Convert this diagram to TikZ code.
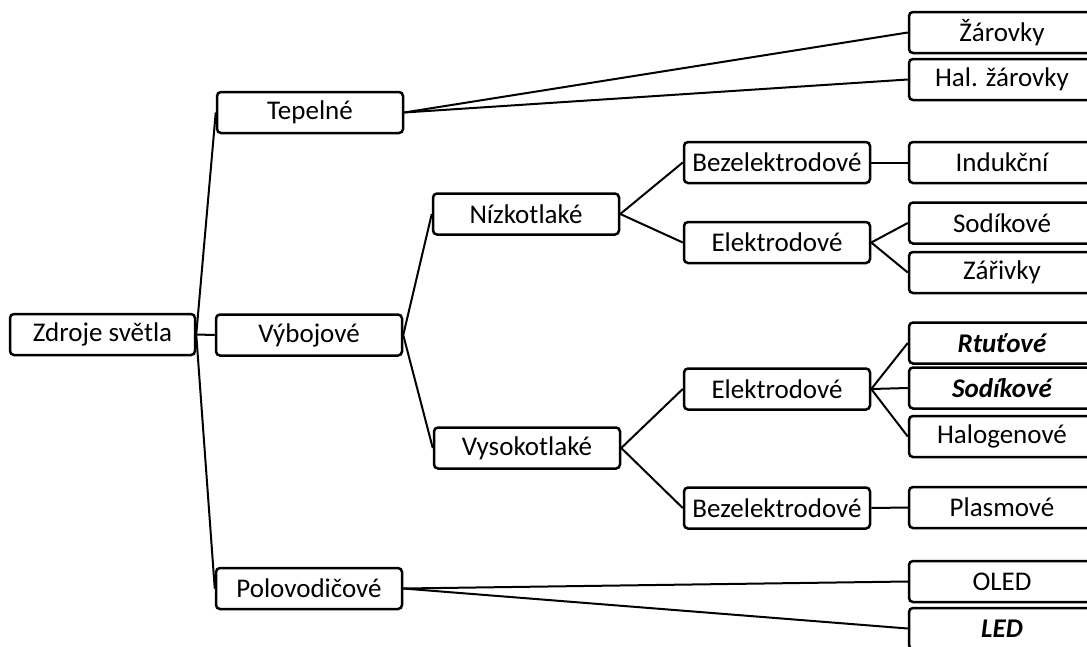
\documentclass[tikz,border=0pt]{standalone}
\usepackage{fontspec}
\setmainfont{Carlito}
\begin{document}
\begin{tikzpicture}[x=1pt,y=-1pt,
  box/.style={draw=black, line width=2.5pt, rounded corners=4pt, fill=white,
    minimum width=186pt, minimum height=41pt, inner sep=0pt,
    font=\fontsize{27}{31}\selectfont},
  bi/.style={font=\fontsize{27}{31}\selectfont\bfseries\itshape},
  con/.style={line width=2pt, black}]
\useasboundingbox (0,0) rectangle (1087,646);
% level 0
\node[box, minimum width=185pt] (z) at (102.5,334.5) {Zdroje světla};
% level 1
\node[box] (t) at (310,112.5) {Tepelné};
\node[box] (v) at (309,335) {Výbojové};
\node[box] (p) at (309,588.5) {Polovodičové};
% level 2
\node[box] (n) at (526,214) {Nízkotlaké};
\node[box] (vy) at (527,448) {Vysokotlaké};
% level 3
\node[box] (b1) at (777,162.5) {Bezelektrodové};
\node[box] (e1) at (777,242.5) {Elektrodové};
\node[box] (e2) at (777,389) {Elektrodové};
\node[box] (b2) at (777,508) {Bezelektrodové};
% level 4
\node[box] (zar) at (1002,32.5) {Žárovky};
\node[box] (hal) at (1002,79.5) {Hal. žárovky};
\node[box] (ind) at (1002,162.5) {Indukční};
\node[box] (sod) at (1002,223) {Sodíkové};
\node[box] (zari) at (1002,272.5) {Zářivky};
\node[box, bi] (rtu) at (1002,343) {Rtuťové};
\node[box, bi] (sod2) at (1002,388) {Sodíkové};
\node[box] (halo) at (1002,436.5) {Halogenové};
\node[box] (plas) at (1002,507.5) {Plasmové};
\node[box] (oled) at (1002,581.5) {OLED};
\node[box, bi] (led) at (1002,628.5) {LED};
% connectors
\draw[con] (z.east) -- (t.west);
\draw[con] (z.east) -- (v.west);
\draw[con] (z.east) -- (p.west);
\draw[con] (t.east) -- (zar.west);
\draw[con] (t.east) -- (hal.west);
\draw[con] (v.east) -- (n.west);
\draw[con] (v.east) -- (vy.west);
\draw[con] (n.east) -- (b1.west);
\draw[con] (n.east) -- (e1.west);
\draw[con] (b1.east) -- (ind.west);
\draw[con] (e1.east) -- (sod.west);
\draw[con] (e1.east) -- (zari.west);
\draw[con] (vy.east) -- (e2.west);
\draw[con] (vy.east) -- (b2.west);
\draw[con] (e2.east) -- (rtu.west);
\draw[con] (e2.east) -- (sod2.west);
\draw[con] (e2.east) -- (halo.west);
\draw[con] (b2.east) -- (plas.west);
\draw[con] (p.east) -- (oled.west);
\draw[con] (p.east) -- (led.west);
\end{tikzpicture}
\end{document}
